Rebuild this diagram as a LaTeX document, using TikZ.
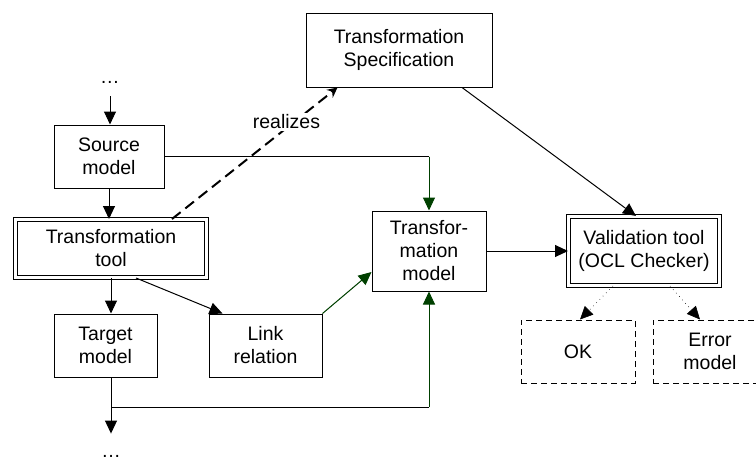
\documentclass[tikz,border=0pt]{standalone}
\usepackage{fontspec}
\setmainfont{Liberation Sans}
\usetikzlibrary{arrows.meta,positioning}
\usepackage{xcolor}
\definecolor{darkgreen}{RGB}{0,64,0}

\begin{document}
\begin{tikzpicture}[x=0.5pt,y=-0.5pt,font=\fontsize{9.75}{11.5}\selectfont]
	\tikzstyle{box} = [draw = black, line width=0.5pt, align=center, inner sep=0pt, minimum height=31.5pt]
	\tikzstyle{dbox} = [box, double, double distance=1.4pt]
	\tikzstyle{dashbox} = [box, dash pattern=on 3pt off 2pt]
	\tikzstyle{dots} = [inner sep=1pt]
	\tikzstyle{line} = [line width=0.5pt, -{Triangle[length=6.5pt,width=6pt]}]
	\tikzstyle{gline} = [line, draw = darkgreen, fill = darkgreen]
	\tikzstyle{dline} = [line, line width=0.3pt, dotted]
	\useasboundingbox (0,0) rectangle (756,461);
	\node(dtop)[dots] at (110,82) {\dots};
	\node(spec)[box, minimum width=93pt, minimum height=37pt] at (399,50) {Transformation\\Specification};
	\node(src)[box, minimum width=55pt] at (109,156.5) {Source\\model};
	\node(tool)[dbox, minimum width=95.5pt, minimum height=29pt] at (111,248.5) {Transformation\\tool};
	\node(tgt)[box, minimum width=51.5pt] at (105.5,345.5) {Target\\model};
	\node(link)[box, minimum width=56.5pt] at (265.5,345.5) {Link\\relation};
	\node(dbot)[dots] at (111,456) {\dots};
	\node(tm)[box, minimum width=57pt, minimum height=40pt] at (429,251) {Transfor-\\mation\\model};
	\node(val)[dbox, minimum width=75.5pt, minimum height=34.5pt] at (644,251) {Validation tool\\(OCL Checker)};
	\node(ok)[dashbox, minimum width=57pt] at (578,351.5) {OK};
	\node(err)[dashbox, minimum width=57pt] at (710,351.5) {Error\\model};
	\coordinate(c1) at (src.east -| tm.north);
	\coordinate(fork) at (111,407);
	\coordinate(c2) at (fork -| tm.south);
	\draw[line, shorten <=5.5pt](dtop) -- (dtop |- src.north);
	\draw[line](src.south) -- (src.south |- tool.north);
	\draw[line](tool.south) -- (tool.south |- tgt.north);
	\draw[line]([xshift=12.5pt]tool.south) -- ([xshift=7pt]link.north west);
	\draw[line width=0.5pt](src.east) -- (c1);
	\draw[gline](c1) -- (tm.north);
	\draw[gline](link.north east) -- ([yshift=-10.5pt]tm.west);
	\draw[line width=0.5pt](tool.south |- tgt.south) -- (fork);
	\draw[line, shorten >=9.5pt](fork) -- (dbot);
	\draw[line width=0.5pt](fork) -- (c2);
	\draw[gline](c2) -- (tm.south);
	\draw[line width=1pt, dash pattern=on 5.5pt off 3pt, -{Stealth[length=5pt,width=5pt]}]([xshift=30.5pt]tool.north) -- node[pos=0.74, fill=white, inner sep=1pt, xshift=-4pt] {realizes} ([xshift=16pt]spec.south west);
	\draw[line]([xshift=31.5pt]spec.south) -- ([xshift=-4pt]val.north);
	\draw[line](tm.east) -- (val.west);
	\draw[dline]([xshift=-15.5pt]val.south) -- ([xshift=1pt]ok.north);
	\draw[dline]([xshift=13pt]val.south) -- ([xshift=-5pt]err.north);
\end{tikzpicture}
\end{document}
